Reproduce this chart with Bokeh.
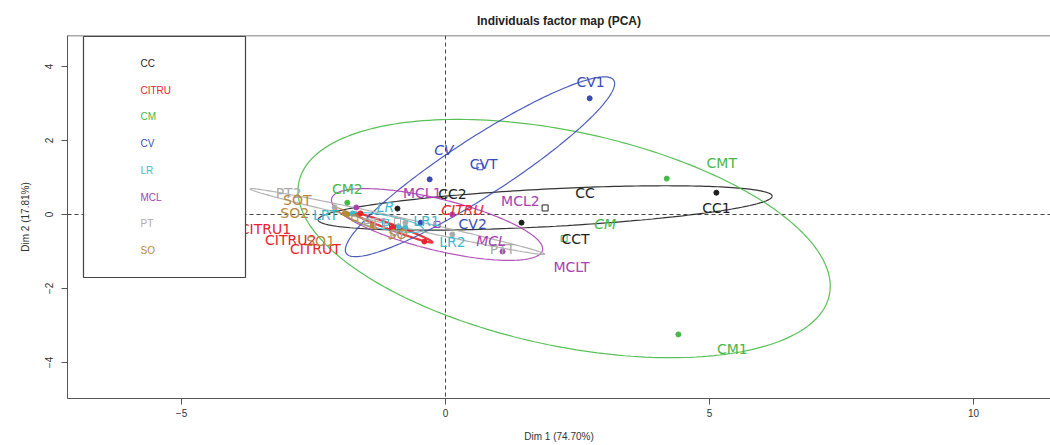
import numpy as np
from bokeh.plotting import figure
from bokeh.models import Span, FixedTicker
from bokeh.core.properties import value
from bokeh.embed import file_html
from bokeh.resources import INLINE

# ---------------- data ----------------
groups = ["CC", "CITRU", "CM", "CV", "LR", "MCL", "PT", "SO"]
group_colors = ["#1e1e1e", "#e8232b", "#46b946", "#3a4bb6", "#3fbacc", "#a840b0", "#ababab", "#b8873c"]

ind_names = ["CC1", "CC2", "CCT", "CITRU1", "CITRU2", "CITRUT", "CM1", "CM2", "CMT",
             "CV1", "CV2", "CVT", "LR1", "LR2", "LRT", "MCL1", "MCL2", "MCLT",
             "PT1", "PT2", "PTT", "SO1", "SO2", "SOT"]
ind_group = ["CC", "CC", "CC", "CITRU", "CITRU", "CITRU", "CM", "CM", "CM",
             "CV", "CV", "CV", "LR", "LR", "LR", "MCL", "MCL", "MCL",
             "PT", "PT", "PT", "SO", "SO", "SO"]
dim1 = [5.13, -0.91, 1.44, -1.61, -1.00, -0.40, 4.41, -1.86, 4.19,
        2.73, -0.47, -0.30, -0.76, -0.89, -1.76, -1.69, 0.13, 1.08,
        -0.76, -2.10, 0.13, -1.38, -1.91, -1.86]
dim2 = [0.59, 0.16, -0.22, 0.03, -0.35, -0.73, -3.24, 0.32, 0.97,
        3.14, -0.22, 0.95, -0.35, -0.32, 0.03, 0.19, 0.00, -1.00,
        -0.22, 0.19, -0.54, -0.30, 0.03, 0.00]

# confidence ellipse shape per group (half extent on Dim 1, half extent on Dim 2, correlation)
ell_wx = [4.30, 0.76, 5.04, 2.55, 0.72, 2.00, 2.79, 0.42]
ell_hy = [0.60, 0.41, 3.22, 2.43, 0.27, 0.97, 0.89, 0.30]
ell_rho = [0.53, -0.98, -0.40, 0.925, -0.70, -0.68, -0.99, -0.97]

x_ticks = [-5, 0, 5, 10]
y_ticks = [-4, -2, 0, 2, 4]

# ---------------- layout (pixels) ----------------
FW, FH = 983, 363
X0, X1 = -7.159, 11.458
Y0, Y1 = -4.973, 4.838
SX = FW / (X1 - X0)
SY = FH / (Y1 - Y0)

def fx(px):  # frame pixel -> data x
    return X0 + px / SX

def fy(py):  # frame pixel (from top) -> data y
    return Y1 - py / SY

# label offsets in pixels (dx right, dy down) relative to each point
ind_lab_off = [(0, 15), (55, -15), (54, 16), (-95, 16), (-102, 13), (-109, 7),
               (54, 15), (0, -14), (55, -16), (1, -16), (52, 1), (54, -15),
               (21, -6), (54, 16), (-27, 2), (66, -14), (68, -14), (69, 15),
               (-30, 0), (-46, -14), (50, 15), (-52, 15), (-50, 0), (-50, -15)]
grp_lab_off = [(40, -15), (70, -17), (41, -15), (-36, -17), (0, -15), (54, 17), (0, 13), (43, 16)]
grp_lab_italic = [False, True, True, True, True, True, True, True]

col_of = dict(zip(groups, group_colors))

p = figure(frame_width=FW, frame_height=FH, x_range=(X0, X1), y_range=(Y0, Y1),
           output_backend="svg", toolbar_location=None,
           min_border_left=67, min_border_right=0, min_border_top=35, min_border_bottom=47,
           title="Individuals factor map (PCA)",
           x_axis_label="Dim 1 (74.70%)", y_axis_label="Dim 2 (17.81%)")

p.title.align = "center"
p.title.text_font = "Liberation Sans"
p.title.text_font_size = "12px"
p.title.text_font_style = "bold"
p.title.text_color = "#222222"
p.title.standoff = 16

p.xgrid.grid_line_color = None
p.ygrid.grid_line_color = None
p.outline_line_color = None
p.background_fill_color = "white"
p.border_fill_color = "white"

for ax in (p.xaxis[0], p.yaxis[0]):
    ax.axis_line_color = "#555555"
    ax.major_tick_line_color = "#555555"
    ax.minor_tick_line_color = None
    ax.major_tick_in = 0
    ax.major_tick_out = 6
    ax.major_label_text_font = "Liberation Sans"
    ax.major_label_text_font_size = "10px"
    ax.major_label_text_color = "#333333"
    ax.axis_label_text_font = "Liberation Sans"
    ax.axis_label_text_font_size = "10px"
    ax.axis_label_text_font_style = "normal"
    ax.axis_label_text_color = "#333333"

p.xaxis.ticker = FixedTicker(ticks=x_ticks)
p.yaxis.ticker = FixedTicker(ticks=y_ticks)
p.yaxis.major_label_orientation = "vertical"
p.xaxis.major_label_standoff = 4
p.xaxis.axis_label_standoff = 11
p.yaxis.major_label_standoff = 8
p.yaxis.axis_label_standoff = 12

# top border of the box
p.add_layout(Span(location=Y1, dimension="width", line_color="#555555", line_width=1.5,
                  level="overlay"))

# reference lines
p.add_layout(Span(location=0, dimension="width", line_color="#444444", line_dash="4 3",
                  line_width=1, level="underlay"))
p.add_layout(Span(location=0, dimension="height", line_color="#444444", line_dash="4 3",
                  line_width=1, level="underlay"))

# group means
gx, gy = [], []
for g in groups:
    idx = [i for i, gg in enumerate(ind_group) if gg == g]
    gx.append(float(np.mean([dim1[i] for i in idx])))
    gy.append(float(np.mean([dim2[i] for i in idx])))

# ellipses
t = np.linspace(0, 2 * np.pi, 240)
for k, g in enumerate(groups):
    r = ell_rho[k]
    ex = gx[k] + ell_wx[k] * np.cos(t)
    ey = gy[k] + ell_hy[k] * (r * np.cos(t) + np.sqrt(1 - r * r) * np.sin(t))
    lw = 2.2 if g == "CITRU" else 1.2
    p.line(ex, ey, line_color=group_colors[k], line_width=lw, line_alpha=0.9)

# individuals
ind_cols = [col_of[g] for g in ind_group]
p.scatter(dim1, dim2, size=5, marker="circle", fill_color=ind_cols, line_color=ind_cols)

# group means as open squares
p.scatter(gx, gy, size=6, marker="square", fill_color=None, line_color=group_colors, line_width=1)

# individual labels
lx = [dim1[i] + ind_lab_off[i][0] / SX for i in range(len(dim1))]
ly = [dim2[i] - ind_lab_off[i][1] / SY for i in range(len(dim2))]
p.text(lx, ly, text=ind_names, text_color=ind_cols, text_font=value("DejaVu Sans"),
       text_font_size="14px", text_align="center", text_baseline="middle")

# group labels
for k, g in enumerate(groups):
    p.text([gx[k] + grp_lab_off[k][0] / SX], [gy[k] - grp_lab_off[k][1] / SY], text=[g],
           text_color=group_colors[k], text_font=value("DejaVu Sans"), text_font_size="14px",
           text_font_style="italic" if grp_lab_italic[k] else "normal",
           text_align="center", text_baseline="middle")

# legend box (top-left)
p.quad(left=[fx(16)], right=[fx(178)], top=[fy(1)], bottom=[fy(242)],
       fill_color="white", line_color="#444444", line_width=1.2)
leg_y = [fy(28 + 26.7 * i) for i in range(len(groups))]
p.text([fx(73)] * len(groups), leg_y, text=groups, text_color=group_colors,
       text_font=value("Liberation Sans"), text_font_size="10px",
       text_align="left", text_baseline="middle")

open("out.html", "w").write(file_html(p, INLINE))
